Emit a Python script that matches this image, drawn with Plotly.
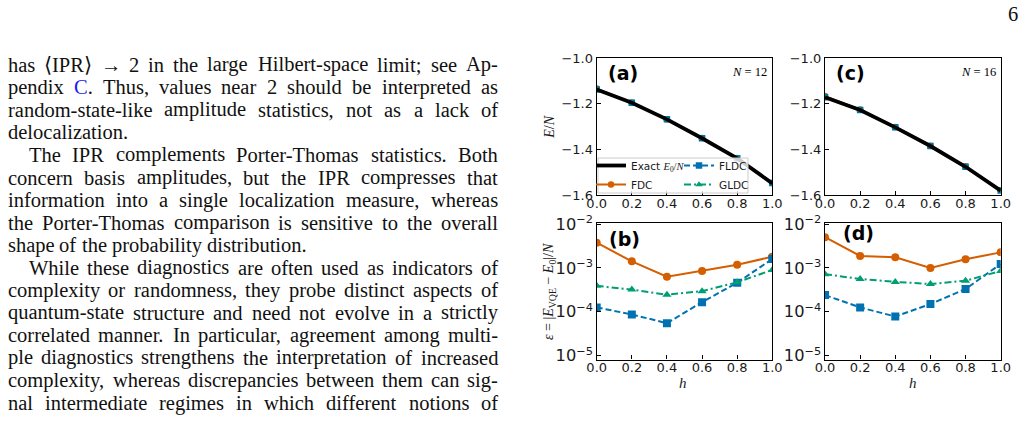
import plotly.graph_objects as go

W, H = 1028, 424

# ---------------- data ----------------
h_vals = [0.0, 0.2, 0.4, 0.6, 0.8, 1.0]

exact_12 = [-1.137, -1.195, -1.268, -1.351, -1.439, -1.549]
exact_16 = [-1.171, -1.227, -1.303, -1.385, -1.476, -1.581]

fdc_E12 = [-1.133, -1.194, -1.267, -1.350, -1.438, -1.547]
fldc_E12 = [-1.137, -1.195, -1.268, -1.351, -1.439, -1.547]
gldc_E12 = [-1.137, -1.195, -1.268, -1.351, -1.439, -1.548]
fdc_E16 = [-1.166, -1.225, -1.301, -1.384, -1.474, -1.579]
fldc_E16 = [-1.171, -1.227, -1.303, -1.385, -1.476, -1.580]
gldc_E16 = [-1.170, -1.226, -1.303, -1.385, -1.476, -1.580]

fdc_eps12 = [3.75e-3, 1.41e-3, 6.3e-4, 8.5e-4, 1.18e-3, 1.8e-3]
fldc_eps12 = [1.26e-4, 8.7e-5, 5.5e-5, 1.66e-4, 4.6e-4, 1.6e-3]
gldc_eps12 = [3.9e-4, 3.2e-4, 2.45e-4, 2.95e-4, 4.7e-4, 9.0e-4]
fdc_eps16 = [5.0e-3, 1.87e-3, 1.74e-3, 1.0e-3, 1.58e-3, 2.26e-3]
fldc_eps16 = [2.4e-4, 1.26e-4, 7.8e-5, 1.5e-4, 3.3e-4, 1.23e-3]
gldc_eps16 = [7.2e-4, 5.6e-4, 4.8e-4, 4.3e-4, 5.1e-4, 8.5e-4]

x_ticks = [0.0, 0.2, 0.4, 0.6, 0.8, 1.0]
e_ticks = [-1.6, -1.4, -1.2, -1.0]

page_lines = [
    ("has ⟨IPR⟩ → 2 in the large Hilbert-space limit; see Ap-", False, True),
    ("pendix C. Thus, values near 2 should be interpreted as", False, True),
    ("random-state-like amplitude statistics, not as a lack of", False, True),
    ("delocalization.", False, False),
    ("The IPR complements Porter-Thomas statistics. Both", True, True),
    ("concern basis amplitudes, but the IPR compresses that", False, True),
    ("information into a single localization measure, whereas", False, True),
    ("the Porter-Thomas comparison is sensitive to the overall", False, True),
    ("shape of the probability distribution.", False, False),
    ("While these diagnostics are often used as indicators of", True, True),
    ("complexity or randomness, they probe distinct aspects of", False, True),
    ("quantum-state structure and need not evolve in a strictly", False, True),
    ("correlated manner. In particular, agreement among multi-", False, True),
    ("ple diagnostics strengthens the interpretation of increased", False, True),
    ("complexity, whereas discrepancies between them can sig-", False, True),
    ("nal intermediate regimes in which different notions of", False, True),
]

# ---------------- helpers ----------------
def fx(px):
    return px / W

def fy(py):
    return 1 - py / H

TIMES = {' ': 250, ',': 250, '-': 333, '.': 250, ';': 278, ':': 278,
         '⟨': 390, '⟩': 390, '→': 900,
         'A': 722, 'B': 667, 'C': 667, 'D': 722, 'E': 611, 'F': 556, 'G': 722,
         'H': 722, 'I': 333, 'J': 389, 'K': 722, 'L': 611, 'M': 889, 'N': 722,
         'O': 722, 'P': 556, 'Q': 722, 'R': 667, 'S': 556, 'T': 611, 'U': 722,
         'V': 722, 'W': 944, 'X': 722, 'Y': 722, 'Z': 611,
         'a': 444, 'b': 500, 'c': 444, 'd': 500, 'e': 444, 'f': 333, 'g': 500,
         'h': 500, 'i': 278, 'j': 278, 'k': 500, 'l': 278, 'm': 778, 'n': 500,
         'o': 500, 'p': 500, 'q': 500, 'r': 333, 's': 389, 't': 278, 'u': 500,
         'v': 500, 'w': 722, 'x': 500, 'y': 500, 'z': 444}
for d in '0123456789':
    TIMES[d] = 500

TXT_SIZE = 20.5
TXT_FONT = "Liberation Serif"

def word_w(w):
    return sum(TIMES.get(c, 500) for c in w) / 1000 * TXT_SIZE

C_OR = '#D55E00'
C_BL = '#0072B2'
C_GR = '#009E73'

fig = go.Figure()

styles = {
    'FDC': dict(color=C_OR, dash='solid', symbol='circle'),
    'FLDC': dict(color=C_BL, dash='6px,3px', symbol='square'),
    'GLDC': dict(color=C_GR, dash='7px,3px,2px,3px', symbol='triangle-up'),
}

def add_series(name, y, xa, ya, msize=8, legend=None, showlegend=False, rank=None):
    s = styles[name]
    fig.add_trace(go.Scatter(
        x=h_vals, y=y, name=name, mode='lines+markers',
        line=dict(color=s['color'], width=2, dash=s['dash']),
        marker=dict(symbol=s['symbol'], size=msize, color=s['color']),
        xaxis=xa, yaxis=ya, showlegend=showlegend,
        legend=legend if legend else 'legend', legendrank=rank if rank else 1000))

# panel (a)
add_series('FDC', fdc_E12, 'x', 'y', msize=6.5, legend='legend', showlegend=True, rank=2)
add_series('FLDC', fldc_E12, 'x', 'y', msize=6.5, legend='legend2', showlegend=True, rank=1)
add_series('GLDC', gldc_E12, 'x', 'y', msize=6.5, legend='legend2', showlegend=True, rank=2)
fig.add_trace(go.Scatter(x=h_vals, y=exact_12, mode='lines',
                         name='Exact <span style="font-family:Liberation Serif"><i>E</i><sub>0</sub>/<i>N</i></span>',
                         line=dict(color='black', width=3.8), xaxis='x', yaxis='y',
                         showlegend=True, legend='legend', legendrank=1))
# panel (c)
add_series('FDC', fdc_E16, 'x3', 'y3', msize=6.5)
add_series('FLDC', fldc_E16, 'x3', 'y3', msize=6.5)
add_series('GLDC', gldc_E16, 'x3', 'y3', msize=6.5)
fig.add_trace(go.Scatter(x=h_vals, y=exact_16, mode='lines', line=dict(color='black', width=3.8),
                         xaxis='x3', yaxis='y3', showlegend=False))
# panel (b)
add_series('FDC', fdc_eps12, 'x2', 'y2')
add_series('FLDC', fldc_eps12, 'x2', 'y2')
add_series('GLDC', gldc_eps12, 'x2', 'y2')
# panel (d)
add_series('FDC', fdc_eps16, 'x4', 'y4')
add_series('FLDC', fldc_eps16, 'x4', 'y4')
add_series('GLDC', gldc_eps16, 'x4', 'y4')

tickfont = dict(family='DejaVu Sans', size=13, color='#1a1a1a')
base_ax = dict(showline=True, linecolor='black', linewidth=1.2, mirror=True,
               ticks='inside', ticklen=4, tickwidth=1, tickcolor='black',
               showgrid=False, zeroline=False, tickfont=tickfont, automargin=False)

xdom_l = [fx(596.7), fx(772.3)]
xdom_r = [fx(825.0), fx(1000.7)]
ydom_t = [fy(195.0), fy(58.3)]
ydom_b = [fy(359.5), fy(222.7)]

def xax(dom, anchor):
    return dict(base_ax, domain=dom, anchor=anchor, range=[0, 1],
                tickvals=x_ticks, tickformat='.1f', ticklabelstandoff=-4)

def yax_lin(dom, anchor):
    return dict(base_ax, domain=dom, anchor=anchor, range=[-1.6, -1.0],
                tickvals=e_ticks, tickformat='.1f')

def yax_log(dom, anchor):
    return dict(base_ax, domain=dom, anchor=anchor, type='log', range=[-5.087, -1.97],
                dtick=1, exponentformat='power', showexponent='all')

legfont = dict(family='DejaVu Sans', size=10.5, color='#1a1a1a')
fig.update_layout(
    template='none',
    width=W, height=H, autosize=False,
    margin=dict(l=0, r=0, t=0, b=0, pad=0, autoexpand=False),
    paper_bgcolor='white', plot_bgcolor='white',
    xaxis=xax(xdom_l, 'y'), yaxis=yax_lin(ydom_t, 'x'),
    xaxis2=xax(xdom_l, 'y2'), yaxis2=yax_log(ydom_b, 'x2'),
    xaxis3=xax(xdom_r, 'y3'), yaxis3=yax_lin(ydom_t, 'x3'),
    xaxis4=xax(xdom_r, 'y4'), yaxis4=yax_log(ydom_b, 'x4'),
    legend=dict(x=fx(591), y=fy(151), xanchor='left', yanchor='top',
                bgcolor='rgba(0,0,0,0)', borderwidth=0, itemwidth=30,
                font=legfont, tracegroupgap=0),
    legend2=dict(x=fx(679), y=fy(151), xanchor='left', yanchor='top',
                 bgcolor='rgba(0,0,0,0)', borderwidth=0, itemwidth=30,
                 font=legfont, tracegroupgap=0),
    showlegend=True,
)

# legend frame
fig.add_shape(type='rect', xref='paper', yref='paper',
              x0=fx(598), x1=fx(748), y0=fy(193), y1=fy(158),
              line=dict(color='#cccccc', width=1), fillcolor='rgba(255,255,255,0.8)',
              layer='above')

ann = []
def A(text, x, y, xanchor='center', yanchor='middle', **kw):
    d = dict(text=text, x=fx(x), y=fy(y), xref='paper', yref='paper', showarrow=False,
             xanchor=xanchor, yanchor=yanchor)
    d.update(kw)
    ann.append(d)

serif = 'Liberation Serif'
# axis titles
A('<i>E</i>/<i>N</i>', 549.3, 127.5, textangle=-90, font=dict(family=serif, size=14, color='#1a1a1a'))
A('<i>ε</i> = |<i>E</i><sub>VQE</sub> − <i>E</i><sub>0</sub>|/<i>N</i>', 549.5, 291.5, textangle=-90,
  font=dict(family=serif, size=14, color='#1a1a1a'))
A('<i>h</i>', 683, 382.7, font=dict(family=serif, size=15, color='#1a1a1a'))
A('<i>h</i>', 913, 382.7, font=dict(family=serif, size=15, color='#1a1a1a'))
# panel labels
bold = dict(family='DejaVu Sans', size=19, color='black')
A('<b>(a)</b>', 606, 73.3, xanchor='left', font=bold)
A('<b>(b)</b>', 606.7, 239.3, xanchor='left', font=bold)
A('<b>(c)</b>', 834, 73.3, xanchor='left', font=bold)
A('<b>(d)</b>', 840.7, 233.3, xanchor='left', font=bold)
A('<i>N</i> = 12', 769, 72.3, xanchor='right', font=dict(family=serif, size=12.5, color='black'))
A('<i>N</i> = 16', 998, 72.3, xanchor='right', font=dict(family=serif, size=12.5, color='black'))
# page number
A('6', 1013, 14, font=dict(family=serif, size=TXT_SIZE, color='#111'))

# left-column justified text, word by word
X_LEFT, X_RIGHT, INDENT = 6.5, 497.0, 21.5
for k, (line, indent, justify) in enumerate(page_lines):
    baseline = 71.7 + 22.55 * k
    ymid = baseline - 0.3375 * TXT_SIZE
    x0 = X_LEFT + (INDENT if indent else 0)
    words = line.split(' ')
    widths = [word_w(w) for w in words]
    if justify and len(words) > 1:
        gap = (X_RIGHT - x0 - sum(widths)) / (len(words) - 1)
    else:
        gap = TIMES[' '] / 1000 * TXT_SIZE
    xpos = x0
    for w, wd in zip(words, widths):
        txt = w
        if w == 'C.':
            txt = '<span style="color:#2020f0">C</span>.'
        A(txt, xpos, ymid, xanchor='left', borderpad=0,
          font=dict(family=TXT_FONT, size=TXT_SIZE, color='#111'))
        xpos += wd + gap

fig.update_layout(annotations=ann)
fig.write_html("out.html")
